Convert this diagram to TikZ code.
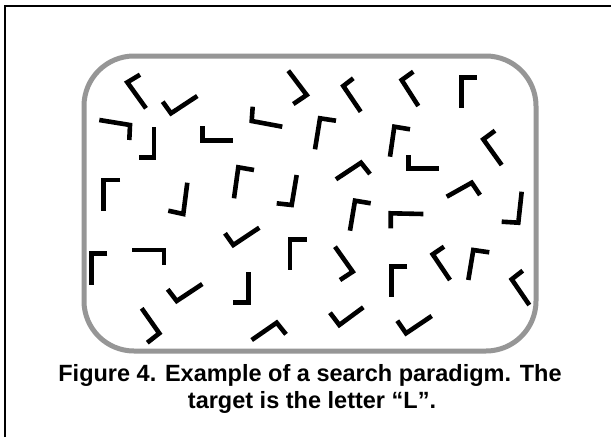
\documentclass[tikz,border=0pt]{standalone}
\usepackage{fontspec}
\setmainfont{Liberation Sans}
\begin{document}
\begin{tikzpicture}[x=1pt,y=-1pt,
  glyph/.style={line width=4.6pt,line join=miter,black},
  panel/.style={line width=5pt,draw={rgb,255:red,150;green,150;blue,150},rounded corners=50pt},
  frameline/.style={line width=2pt,black},
  captext/.style={font=\fontsize{23.5}{27}\selectfont\bfseries,anchor=base,inner sep=0pt}]
\useasboundingbox (0,0) rectangle (611,437);
\fill[white] (0,0) rectangle (611,437);
\draw[frameline] (5,437) -- (5,6) -- (611,6);
\draw[panel] (84,56) rectangle (536,351);
% glyphs
\draw[glyph] (140,74.7) -- (127.3,82.3) -- (146,108.3);
\draw[glyph] (162.7,101.7) -- (171,113.3) -- (197.3,96);
\draw[glyph] (99.3,120) -- (130,125) -- (129.3,140);
\draw[glyph] (154,127.3) -- (154,157.3) -- (139.3,157.3);
\draw[glyph] (202.3,126) -- (202.3,140.7) -- (233.3,140.7);
\draw[glyph] (288.3,70.7) -- (306.7,95) -- (293.3,104);
\draw[glyph] (252.7,106.7) -- (251.7,121) -- (282.3,126.7);
\draw[glyph] (120,180) -- (103.3,180) -- (103.3,210.7);
\draw[glyph] (187.3,182.7) -- (183.3,214) -- (168.3,210.7);
\draw[glyph] (254,170) -- (238.3,167.3) -- (234,198.3);
\draw[glyph] (296.7,175) -- (291.7,205) -- (276.7,203.3);
\draw[glyph] (353.3,78.3) -- (343.3,86) -- (360.7,111.7);
\draw[glyph] (413.3,71.7) -- (401.7,80) -- (418.3,106);
\draw[glyph] (476.7,77.3) -- (461.7,77.3) -- (461.7,108.3);
\draw[glyph] (336,120.7) -- (320,118.3) -- (315,149.3);
\draw[glyph] (410,129.3) -- (394.3,126.7) -- (390,156.7);
\draw[glyph] (408.3,155) -- (408.3,168.3) -- (439.3,168.3);
\draw[glyph] (495,130.7) -- (483.3,139.3) -- (501.7,165);
\draw[glyph] (336,179.3) -- (361,162.7) -- (370,174);
\draw[glyph] (446.7,196.7) -- (471.7,182.7) -- (480,195);
\draw[glyph] (521.7,191.7) -- (518.3,222.7) -- (501.7,221.7);
\draw[glyph] (370.7,203.3) -- (355,200.7) -- (350,230.7);
\draw[glyph] (423.3,214) -- (390.7,213.3) -- (390.7,228.3);
\draw[glyph] (335,246.7) -- (352.7,271.7) -- (340,280);
\draw[glyph] (407.3,266.7) -- (391.7,266.7) -- (391.7,297.3);
\draw[glyph] (444,246.7) -- (432.7,254.3) -- (450,280);
\draw[glyph] (489.3,252.3) -- (473.3,250) -- (468.3,280);
\draw[glyph] (522.7,270.7) -- (511.7,279.3) -- (529.3,305);
\draw[glyph] (330,312.7) -- (339.3,325) -- (363.3,307.3);
\draw[glyph] (397.3,320.7) -- (406,333.3) -- (431.7,316);
\draw[glyph] (107.3,253.3) -- (91.7,253.3) -- (91.7,285);
\draw[glyph] (132.3,250) -- (164,250) -- (164,265);
\draw[glyph] (225,233.3) -- (233.3,245) -- (259.3,227.7);
\draw[glyph] (306.7,239.3) -- (290,239.3) -- (290,270);
\draw[glyph] (167.7,289.3) -- (176.7,301) -- (202.3,284);
\draw[glyph] (248.3,272.3) -- (248.3,302.7) -- (232.7,302.7);
\draw[glyph] (141.7,308.3) -- (159.3,333.3) -- (147.3,342.7);
\draw[glyph] (251.7,340) -- (276.7,322.7) -- (286,334.3);
% caption
\node[captext] (cap1) at (310,381.5) {Figure 4. Example of a search paradigm. The};
\node[captext] (cap2) at (312,408.5) {target is the letter “L”.};
\end{tikzpicture}
\end{document}
